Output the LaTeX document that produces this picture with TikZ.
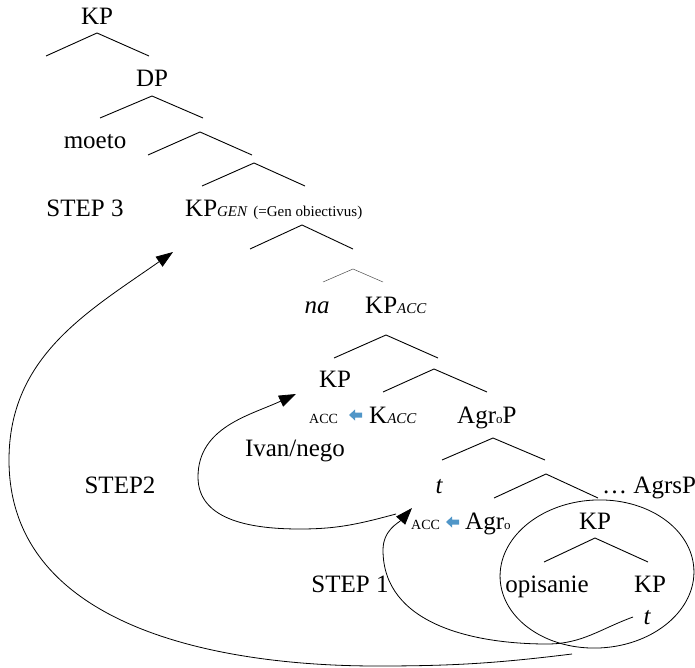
\documentclass[tikz,border=0pt]{standalone}
\usepackage{fontspec}
\setmainfont{Liberation Serif}
\usetikzlibrary{arrows.meta}
\definecolor{arrblue}{RGB}{80,150,200}
\newcommand\bigf{\fontsize{25}{30}\selectfont}
\newcommand\subf{\fontsize{15}{15}\selectfont}
\newcommand\smf{\fontsize{14}{14}\selectfont}
\newcommand\blueleft[2]{\fill[arrblue] (#1,#2) -- ++(6,5.5) -- ++(0,-3) -- ++(7,0) -- ++(0,-5) -- ++(-7,0) -- ++(0,-3) -- cycle;}
\begin{document}
\begin{tikzpicture}[x=1pt,y=1pt,
  lab/.style={anchor=base, inner sep=0pt, font=\bigf},
  labw/.style={anchor=base west, inner sep=0pt, font=\bigf},
  branch/.style={line width=0.9pt},
  thinbranch/.style={line width=0.5pt, black!70},
  arr/.style={line width=0.8pt, -{Triangle[length=17pt,width=12pt]}}]
\useasboundingbox (0,0) rectangle (695,-668);
% branches: name/apex x/apex y/left x/right x/bottom y
\foreach \n/\ax/\ay/\lx/\rx/\by in {
  1/97/33/46/149/56, 2/152/96/100/203/118, 3/200/132/148/252/155,
  4/254/163/202/305/186, 5/302/225/250/353/249, 7/386/335/334/438/358,
  8/434/369/383/487/392, 9/493/438/442/545/460, 10/546/474/494/598/498,
  11/595/538/544/648/562}{
  \coordinate (a\n) at (\ax,-\ay);
  \coordinate (l\n) at (\lx,-\by);
  \coordinate (r\n) at (\rx,-\by);
  \draw[branch] (l\n) -- (a\n) -- (r\n);
}
\coordinate (a6) at (353,-269);
\coordinate (l6) at (323,-282);
\coordinate (r6) at (383,-282);
\draw[thinbranch] (l6) -- (a6) -- (r6);
% labels
\node[lab] (kp0) at (97,-25) {KP};
\node[lab] (dp) at (152,-87) {DP};
\node[lab] (moeto) at (95,-149) {moeto};
\node[lab] (step3) at (85,-217) {STEP 3};
\node[labw] (kpgen) at (185,-217) {KP{\subf\itshape GEN} {\subf(=Gen obiectivus)}};
\node[lab] (na) at (317,-313) {\itshape na};
\node[labw] (kpacc) at (365,-313) {KP{\subf\itshape ACC}};
\node[lab] (kp1) at (335,-387) {KP};
\node[labw] (acc1) at (309,-423) {\smf ACC};
\node[labw] (kacc) at (369,-423) {K{\subf\itshape ACC}};
\node[labw] (agrop) at (457,-423) {Agr{\fontsize{13}{13}\selectfont o}P};
\node[lab] (ivan) at (295,-456) {Ivan/nego};
\node[lab] (step2) at (120,-493) {STEP2};
\node[lab] (t1) at (439,-493) {\itshape t};
\node[labw] (agrsp) at (602,-493) {… AgrsP};
\node[labw] (acc2) at (411,-529) {\smf ACC};
\node[labw] (agro) at (465,-529) {Agr{\fontsize{13}{13}\selectfont o}};
\node[lab] (kp2) at (595,-529) {KP};
\node[lab] (opis) at (547,-592) {opisanie};
\node[lab] (kp3) at (650,-592) {KP};
\node[lab] (step1) at (350,-592) {STEP 1};
\node[lab] (t2) at (647,-624) {\itshape t};
% blue arrows
\blueleft{349}{-415}
\blueleft{446}{-522}
% ellipse
\coordinate (ec) at (597,-574);
\draw[line width=0.8pt, rotate around={3:(ec)}] (ec) ellipse [x radius=97, y radius=74];
% STEP 1 arrow
\coordinate (s1a) at (633,-617);
\coordinate (s1b) at (547,-644);
\coordinate (s1c) at (383,-550);
\coordinate (s1d) at (412,-508);
\draw[arr] (s1a) to[out=200,in=0] (s1b) to[out=180,in=-90] (s1c) to[out=90,in=228] (s1d);
% STEP 2 arrow
\coordinate (s2a) at (396,-514);
\coordinate (s2b) at (300,-529);
\coordinate (s2c) at (198,-477);
\coordinate (s2d) at (296,-394);
\draw[arr] (s2a) to[out=195,in=0] (s2b) to[out=180,in=-90] (s2c) to[out=90,in=205] (s2d);
% STEP 3 arrow
\coordinate (s3a) at (572,-654);
\coordinate (s3b) at (377,-666);
\coordinate (s3c) at (9,-460);
\coordinate (s3d) at (173,-252);
\draw[arr] (s3a) to[out=187,in=0] (s3b) to[out=180,in=-90] (s3c) to[out=90,in=215] (s3d);
\end{tikzpicture}
\end{document}
